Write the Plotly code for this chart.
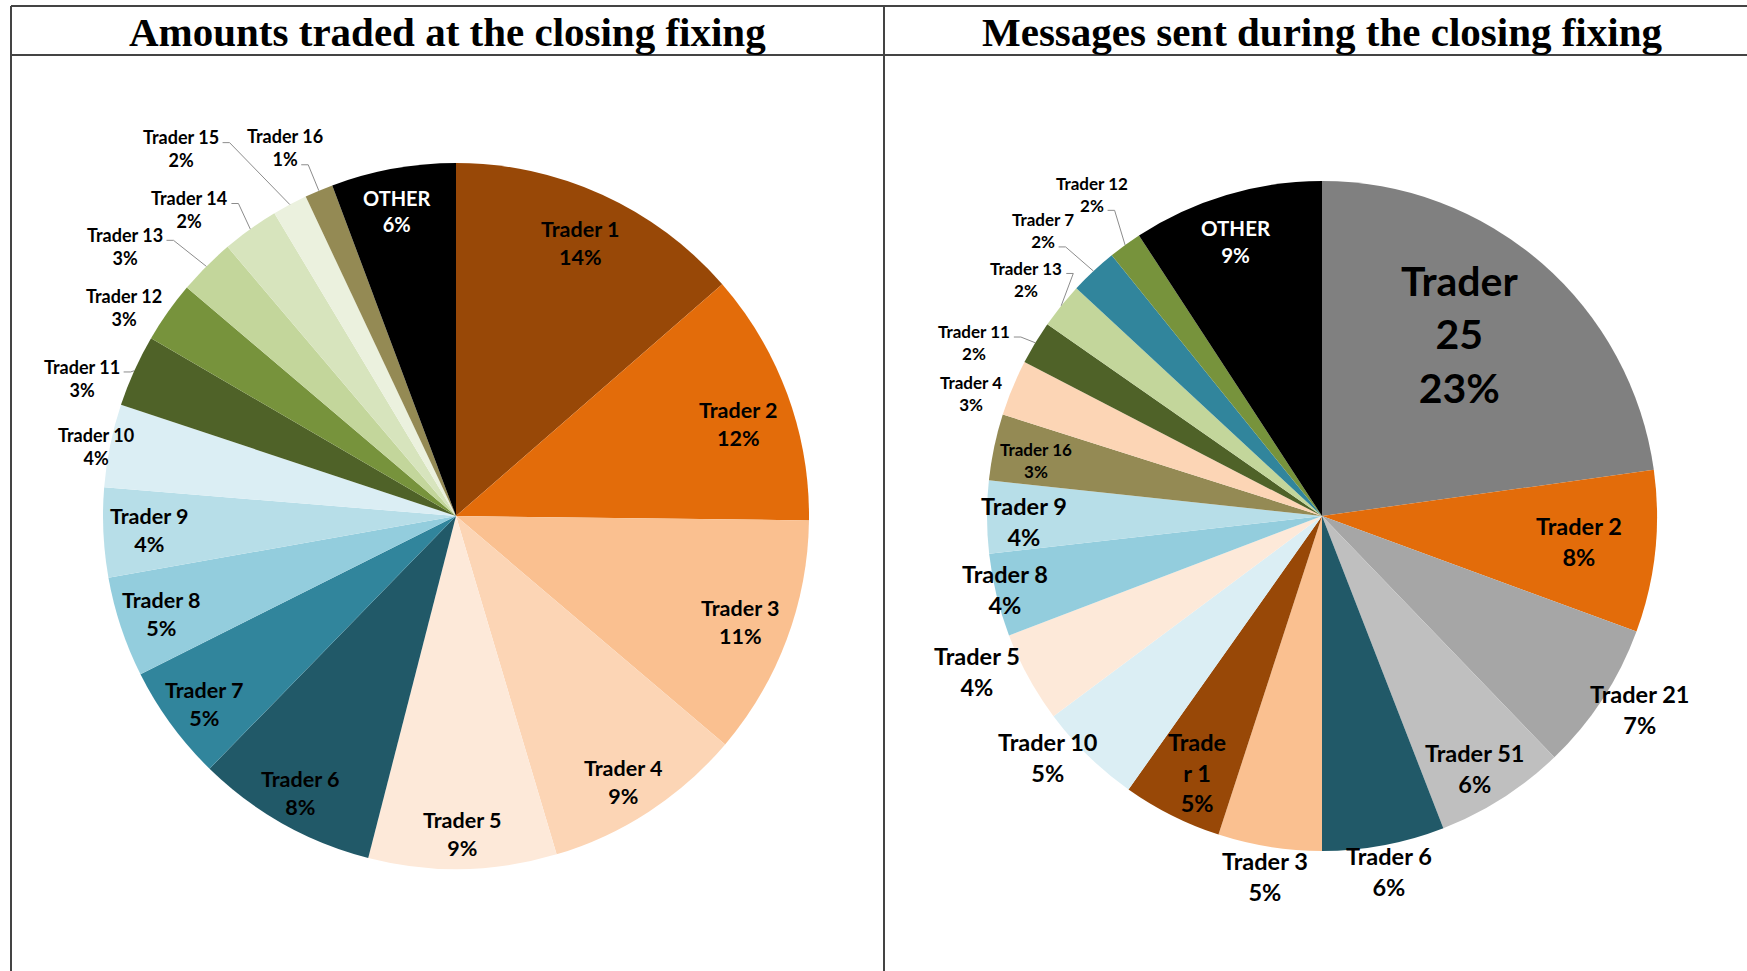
import math
import plotly.graph_objects as go

W, H = 1747, 971

# ---------------- data ----------------
LEFT_TITLE = "Amounts traded at the closing fixing"
RIGHT_TITLE = "Messages sent during the closing fixing"

left_traders = ["Trader 1", "Trader 2", "Trader 3", "Trader 4", "Trader 5", "Trader 6",
                "Trader 7", "Trader 8", "Trader 9", "Trader 10", "Trader 11", "Trader 12",
                "Trader 13", "Trader 14", "Trader 15", "Trader 16", "OTHER"]
left_values = [13.6, 11.6, 11.0, 9.2, 8.6, 8.3, 5.3, 4.6, 4.1, 3.8, 3.3, 2.8, 2.6, 2.6, 1.6, 1.3, 5.7]
left_pct = ["14%", "12%", "11%", "9%", "9%", "8%", "5%", "5%", "4%", "4%", "3%", "3%",
            "3%", "2%", "2%", "1%", "6%"]

right_traders = ["Trader 25", "Trader 2", "Trader 21", "Trader 51", "Trader 6", "Trader 3",
                 "Trader 1", "Trader 10", "Trader 5", "Trader 8", "Trader 9", "Trader 16",
                 "Trader 4", "Trader 11", "Trader 13", "Trader 7", "Trader 12", "OTHER"]
right_values = [22.8, 7.8, 7.2, 6.3, 5.9, 5.0, 4.8, 5.0, 4.4, 4.0, 3.5, 3.2, 2.7, 2.1, 2.2, 2.3, 1.6, 9.2]
right_pct = ["23%", "8%", "7%", "6%", "6%", "5%", "5%", "5%", "4%", "4%", "4%", "3%",
             "3%", "2%", "2%", "2%", "2%", "9%"]

# ---------------- styles ----------------
C = {
    "Trader 1": "#984807", "Trader 2": "#E36C0A", "Trader 3": "#FAC090", "Trader 4": "#FCD5B5",
    "Trader 5": "#FDE9D9", "Trader 6": "#215968", "Trader 7": "#31859C", "Trader 8": "#93CDDD",
    "Trader 9": "#B7DEE8", "Trader 10": "#DBEEF4", "Trader 11": "#4F6228", "Trader 12": "#77933C",
    "Trader 13": "#C3D69B", "Trader 14": "#D7E4BD", "Trader 15": "#EBF1DE", "Trader 16": "#948A54",
    "OTHER": "#000000", "Trader 25": "#808080", "Trader 21": "#A6A6A6", "Trader 51": "#BFBFBF",
}
left_colors = [C[t] for t in left_traders]
right_colors = [C[t] for t in right_traders]

# pie geometry (pixels)
LEFT_C, LEFT_R = (456, 516), 353
RIGHT_C, RIGHT_R = (1322, 516), 335

# label placement: (angle offset deg, radius factor, font size, leader attach line or None)
left_lab_style = [
    (0, 0.85, 21.5, None), (2, 0.84, 21.5, None), (0, 0.86, 21.5, None), (1, 0.89, 21.5, None),
    (0, 0.90, 21.5, None), (0, 0.90, 21.5, None), (-0.6, 0.89, 21.5, None), (0, 0.88, 21.5, None),
    (0, 0.87, 21.5, None), (-0.6, 1.04, 18, None), (-4.1, 1.13, 18, 0), (-3.1, 1.11, 18, None),
    (-5.9, 1.21, 18, 0), (-5.4, 1.15, 18, 0), (-8.8, 1.30, 18, 0), (-2.0, 1.15, 18, 1),
    (-0.6, 0.88, 20, None),
]
right_lab_style = [
    (-4, 0.68, 41, None), (-0.4, 0.77, 23.5, None), (-1.7, 1.11, 23.5, None), (1.4, 0.88, 23.5, None),
    (0, 1.08, 23.5, None), (0, 1.09, 23.5, None), (-0.7, 0.85, 23.5, None), (4.4, 1.09, 23.5, None),
    (4.5, 1.13, 23.5, None), (0.6, 0.97, 23.5, None), (-0.8, 0.89, 23.5, None), (-0.9, 0.87, 17, None),
    (-3.3, 1.11, 17, None), (-4.7, 1.16, 17, 0), (-0.2, 1.13, 17, 0), (-1.3, 1.19, 17, 1),
    (0.5, 1.18, 17, 1), (-0.8, 0.86, 20.5, None),
]
right_wrap = {"Trader 25": ["Trader", "25"], "Trader 1": ["Trade", "r 1"]}

FONT = "Lato"


def px2paper(x, y):
    return x / W, 1 - y / H


def domain(c, r):
    cx, cy = c
    return dict(x=[(cx - r) / W, (cx + r) / W], y=[1 - (cy + r) / H, 1 - (cy - r) / H])


def text_width(s, size):
    w = 0
    for ch in s:
        if ch.isdigit():
            w += 0.58
        elif ch == "%":
            w += 0.85
        elif ch == " ":
            w += 0.23
        elif ch in "rt":
            w += 0.38
        elif ch.isupper():
            w += 0.62
        else:
            w += 0.52
    return w * size


fig = go.Figure()
annotations = []
shapes = []


def add_pie(names, values, pct, colors, center, radius, styles, wrap):
    fig.add_trace(go.Pie(
        labels=names, values=values, sort=False, direction="clockwise", rotation=0,
        marker=dict(colors=colors, line=dict(width=0)), textinfo="none",
        domain=domain(center, radius), showlegend=False, hole=0,
    ))
    total = float(sum(values))
    cum = 0.0
    cx, cy = center
    for name, v, p, st in zip(names, values, pct, styles):
        mid = (cum + v / 2) / total * 360.0
        cum += v
        off, fac, size, attach = st
        a = math.radians(mid + off)
        lx = cx + fac * radius * math.sin(a)
        ly = cy - fac * radius * math.cos(a)
        lines = wrap.get(name, [name]) + [p]
        color = "#FFFFFF" if name == "OTHER" else "#000000"
        x, y = px2paper(lx, ly)
        annotations.append(dict(
            x=x, y=y, xref="paper", yref="paper", showarrow=False,
            xanchor="center", yanchor="middle", text="<br>".join(lines),
            font=dict(family=FONT, size=size, color=color, weight="bold"),
        ))
        if attach is not None:
            lh = 1.3 * size
            n = len(lines)
            line_y = ly - (n - 1) / 2 * lh + attach * lh + 0.3 * size
            ax = lx + text_width(lines[attach], size) / 2 + 3
            bx = ax + 7
            ma = math.radians(mid)
            rx = cx + radius * math.sin(ma)
            ry = cy - radius * math.cos(ma)
            p1 = px2paper(ax, line_y)
            p2 = px2paper(bx, line_y)
            p3 = px2paper(rx, ry)
            shapes.append(dict(
                type="path", xref="paper", yref="paper",
                path=f"M {p1[0]} {p1[1]} L {p2[0]} {p2[1]} L {p3[0]} {p3[1]}",
                line=dict(color="#8C8C8C", width=1),
            ))


add_pie(left_traders, left_values, left_pct, left_colors, LEFT_C, LEFT_R, left_lab_style, {})
add_pie(right_traders, right_values, right_pct, right_colors, RIGHT_C, RIGHT_R, right_lab_style, right_wrap)

# table frame
GRID = "#444444"
TOP_Y, HEAD_Y, LEFT_X, MID_X = 6, 55, 11, 884


def hline(y, x0, x1):
    a = px2paper(x0, y)
    b = px2paper(x1, y)
    shapes.append(dict(type="line", xref="paper", yref="paper", x0=a[0], y0=a[1], x1=b[0], y1=b[1],
                       line=dict(color=GRID, width=2)))


def vline(x, y0, y1):
    a = px2paper(x, y0)
    b = px2paper(x, y1)
    shapes.append(dict(type="line", xref="paper", yref="paper", x0=a[0], y0=a[1], x1=b[0], y1=b[1],
                       line=dict(color=GRID, width=2)))


hline(TOP_Y, LEFT_X, W + 5)
hline(HEAD_Y, LEFT_X, W + 5)
vline(LEFT_X, TOP_Y, H + 5)
vline(MID_X, TOP_Y, H + 5)

for title, xc in [(LEFT_TITLE, (LEFT_X + MID_X) / 2), (RIGHT_TITLE, RIGHT_C[0])]:
    x, y = px2paper(xc, (TOP_Y + HEAD_Y) / 2 + 1)
    annotations.append(dict(
        x=x, y=y, xref="paper", yref="paper", showarrow=False, xanchor="center", yanchor="middle",
        text=title, font=dict(family="Liberation Serif", size=41, color="#000000", weight="bold"),
    ))

fig.update_layout(
    width=W, height=H, margin=dict(l=0, r=0, t=0, b=0),
    paper_bgcolor="#FFFFFF", plot_bgcolor="#FFFFFF",
    annotations=annotations, shapes=shapes,
)

fig.write_html(
    "out.html",
    config={"displayModeBar": False},
    post_script="document.body.style.margin='0';document.body.style.overflow='hidden';",
)
